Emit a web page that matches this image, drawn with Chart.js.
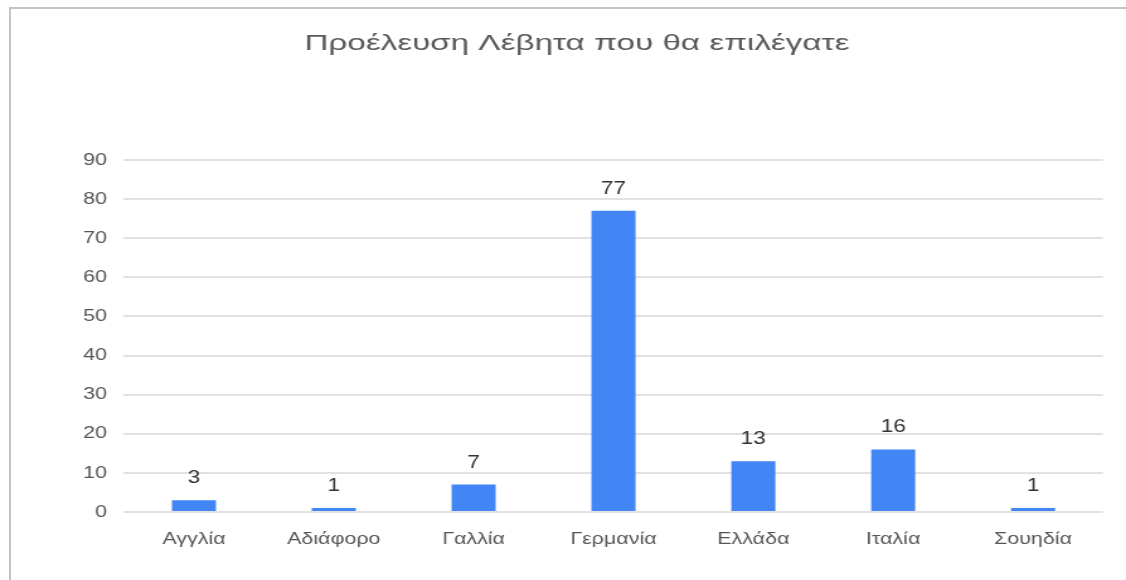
<!DOCTYPE html>
<html>
<head>
<meta charset="utf-8">
<script src="https://cdn.jsdelivr.net/npm/chart.js@4"></script>
<style>
  html, body { margin: 0; padding: 0; background: #fff; overflow: hidden; }
  #frame { position: absolute; left: 9px; top: 7px; width: 1200px; height: 700px; border: 2px solid #c4c4c4; box-sizing: border-box; }
  #c { position: absolute; left: 0; top: 0; }
</style>
</head>
<body>
<div id="frame"></div>
<!-- drawn on a narrower bitmap and widened by CSS, which gives the broad lettering -->
<canvas id="c" width="894" height="580" style="width:1126px;height:580px"></canvas>
<script>
const titleText = 'Προέλευση Λέβητα που θα επιλέγατε';
const categories = ['Αγγλία', 'Αδιάφορο', 'Γαλλία', 'Γερμανία', 'Ελλάδα', 'Ιταλία', 'Σουηδία'];
const counts = [3, 1, 7, 77, 13, 16, 1];
const yTicks = [0, 10, 20, 30, 40, 50, 60, 70, 80, 90];

const FONT = "'Liberation Sans', Arial, sans-serif";
const STRETCH = 1126 / 894;

// Chart title, drawn a little wider than the plain font
const wideTitle = {
  id: 'wideTitle',
  afterDraw(chart) {
    const ctx = chart.ctx;
    ctx.save();
    ctx.font = '22px ' + FONT;
    ctx.fillStyle = '#595959';
    ctx.textAlign = 'center';
    ctx.textBaseline = 'alphabetic';
    const w = ctx.measureText(titleText).width;
    const targetW = 545 / STRETCH;
    const cx = 577 / STRETCH;
    ctx.translate(cx, 50);
    ctx.scale(targetW / w, 1);
    ctx.fillText(titleText, 0, 0);
    ctx.restore();
  }
};

// Writes each bar's value above it
const valueLabels = {
  id: 'valueLabels',
  afterDatasetsDraw(chart) {
    const ctx = chart.ctx;
    const meta = chart.getDatasetMeta(0);
    ctx.save();
    ctx.font = '18px ' + FONT;
    ctx.fillStyle = '#333';
    ctx.textAlign = 'center';
    ctx.textBaseline = 'bottom';
    meta.data.forEach((bar, i) => {
      ctx.fillText(String(counts[i]), bar.x, bar.y - 13);
    });
    ctx.restore();
  }
};

new Chart(document.getElementById('c'), {
  type: 'bar',
  data: {
    labels: categories,
    datasets: [{
      data: counts,
      backgroundColor: '#4285f4',
      borderWidth: 0,
      categoryPercentage: 1,
      barPercentage: 0.315
    }]
  },
  options: {
    responsive: false,
    animation: false,
    devicePixelRatio: 1,
    layout: { padding: { left: 0, right: 18.3, top: 160, bottom: 0 } },
    plugins: {
      legend: { display: false },
      tooltip: { enabled: false },
      title: { display: false }
    },
    scales: {
      x: {
        grid: { display: false, drawTicks: false },
        border: { display: false },
        ticks: { color: '#555', font: { family: FONT, size: 17 }, padding: 17, maxRotation: 0 },
        afterFit(scale) { scale.height = 68; }
      },
      y: {
        min: 0,
        max: 90,
        afterBuildTicks(scale) { scale.ticks = yTicks.map(v => ({ value: v })); },
        grid: { color: '#e2e2e2', lineWidth: 2, drawTicks: false },
        border: { display: false },
        ticks: { color: '#555', font: { family: FONT, size: 17 }, padding: 13.5 },
        afterFit(scale) { scale.width = 98.45; }
      }
    }
  },
  plugins: [valueLabels, wideTitle]
});
</script>
</body>
</html>
